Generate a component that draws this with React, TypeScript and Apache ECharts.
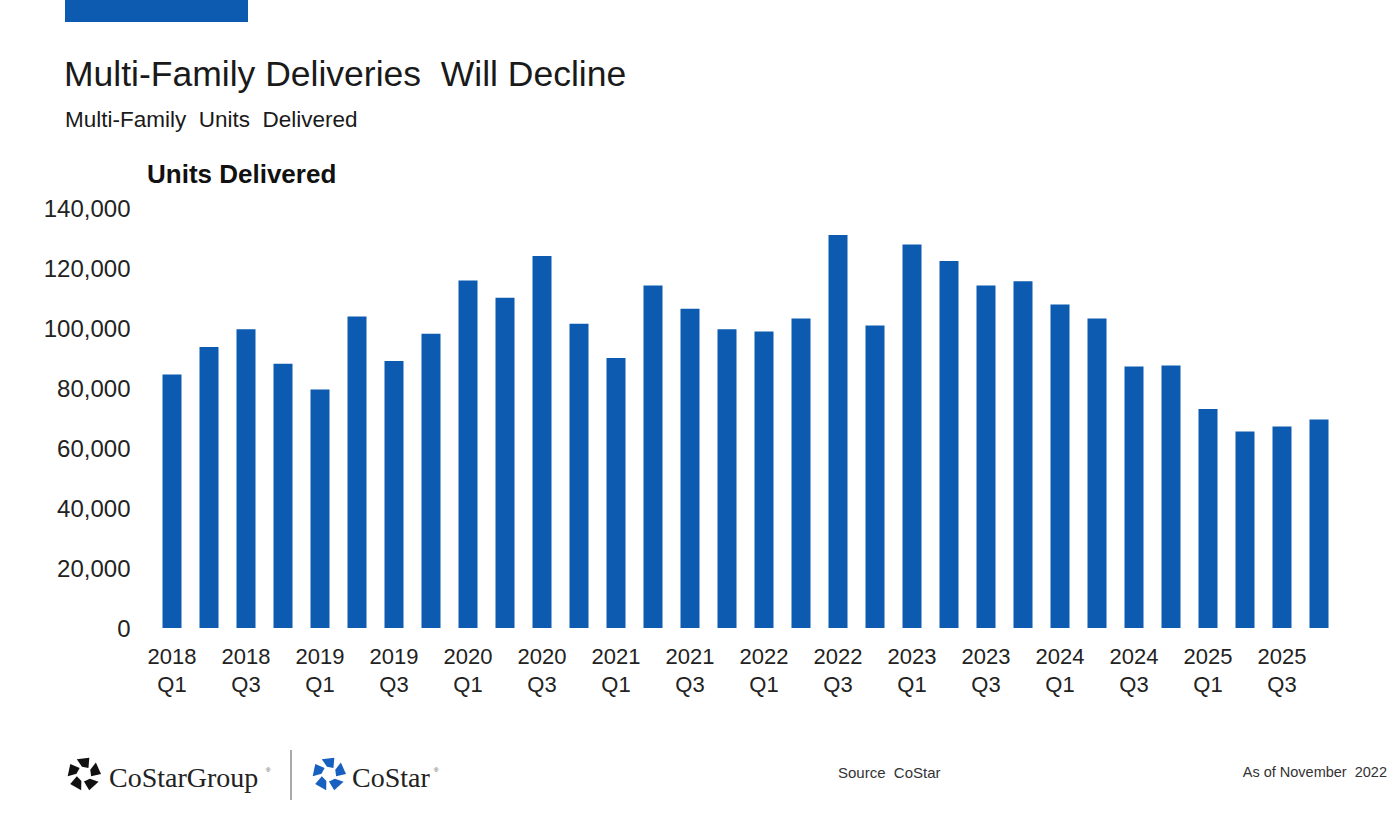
import React, { useEffect, useRef } from "react";
import * as echarts from "echarts";

const categories: string[] = [
  "2018\nQ1", "2018\nQ2", "2018\nQ3", "2018\nQ4",
  "2019\nQ1", "2019\nQ2", "2019\nQ3", "2019\nQ4",
  "2020\nQ1", "2020\nQ2", "2020\nQ3", "2020\nQ4",
  "2021\nQ1", "2021\nQ2", "2021\nQ3", "2021\nQ4",
  "2022\nQ1", "2022\nQ2", "2022\nQ3", "2022\nQ4",
  "2023\nQ1", "2023\nQ2", "2023\nQ3", "2023\nQ4",
  "2024\nQ1", "2024\nQ2", "2024\nQ3", "2024\nQ4",
  "2025\nQ1", "2025\nQ2", "2025\nQ3", "2025\nQ4",
];

const unitsDelivered: number[] = [
  84500, 93700, 99600, 88100,
  79500, 103800, 89000, 98100,
  115800, 110100, 124000, 101400,
  90000, 114200, 106400, 99600,
  98800, 103200, 131000, 100800,
  127800, 122300, 114200, 115600,
  107800, 103200, 87200, 87500,
  73000, 65500, 67200, 69500,
];

const TITLE = "Multi-Family Deliveries  Will Decline";
const SUBTITLE = "Multi-Family  Units  Delivered";
const AXIS_TITLE = "Units Delivered";
const SOURCE = "Source  CoStar";
const AS_OF = "As of November  2022";

function logoPieces(cx: number, cy: number, color: string) {
  const pieces: any[] = [];
  for (let i = 0; i < 5; i++) {
    const a = (-90 + i * 72) * Math.PI / 180;
    const h = 26 * Math.PI / 180;
    const ro = 16.5, ri = 7.5;
    const pts = [
      [cx + ro * Math.cos(a - h), cy + ro * Math.sin(a - h)],
      [cx + (ro + 0.5) * Math.cos(a + h * 0.7), cy + (ro + 0.5) * Math.sin(a + h * 0.7)],
      [cx + ri * Math.cos(a + h * 1.4), cy + ri * Math.sin(a + h * 1.4)],
      [cx + ri * Math.cos(a - h * 0.6), cy + ri * Math.sin(a - h * 0.6)],
    ];
    pieces.push({ type: "polygon", shape: { points: pts }, style: { fill: color } });
  }
  return pieces;
}

export default function App() {
  const ref = useRef<HTMLDivElement>(null);
  useEffect(() => {
    document.body.style.margin = "0";
    const chart = echarts.init(ref.current!, null, { renderer: "svg" });
    const font = "'Liberation Sans', Arial, sans-serif";
    const serif = "'Liberation Serif', 'DejaVu Serif', serif";
    chart.setOption({
      animation: false,
      backgroundColor: "#ffffff",
      grid: { left: 153.5, right: 61.5, top: 208, bottom: 186, containLabel: false },
      xAxis: {
        type: "category",
        data: categories,
        axisLine: { show: false },
        axisTick: { show: false },
        axisLabel: {
          interval: 1,
          fontSize: 22,
          lineHeight: 28,
          margin: 14,
          color: "#222222",
          fontFamily: font,
        },
      },
      yAxis: {
        type: "value",
        min: 0,
        max: 140000,
        interval: 20000,
        splitLine: { show: false },
        axisLine: { show: false },
        axisTick: { show: false },
        axisLabel: {
          fontSize: 24,
          margin: 23,
          color: "#222222",
          fontFamily: font,
          formatter: (v: number) => v.toLocaleString("en-US"),
        },
      },
      series: [
        {
          type: "bar",
          data: unitsDelivered,
          barWidth: 19,
          itemStyle: { color: "#0d5bb0" },
        },
      ],
      graphic: [
        { type: "rect", shape: { x: 65, y: 0, width: 183, height: 22 }, style: { fill: "#0d5bb0" } },
        {
          type: "text", x: 64, y: 74,
          style: { text: TITLE, font: `35.5px ${font}`, fill: "#1a1a1a", verticalAlign: "middle" },
        },
        {
          type: "text", x: 65, y: 119,
          style: { text: SUBTITLE, font: `22.5px ${font}`, fill: "#1a1a1a", verticalAlign: "middle" },
        },
        {
          type: "text", x: 147, y: 174,
          style: { text: AXIS_TITLE, font: `bold 26px ${font}`, fill: "#111111", verticalAlign: "middle" },
        },
        ...logoPieces(84, 774, "#111111"),
        {
          type: "text", x: 109, y: 777,
          style: { text: "CoStarGroup", font: `28px ${serif}`, fill: "#222222", verticalAlign: "middle" },
        },
        {
          type: "text", x: 266, y: 770,
          style: { text: "®", font: `6px ${font}`, fill: "#444444", verticalAlign: "middle" },
        },
        { type: "line", shape: { x1: 291, y1: 750, x2: 291, y2: 800 }, style: { stroke: "#555555", lineWidth: 1 } },
        ...logoPieces(329, 774, "#1760bf"),
        {
          type: "text", x: 352, y: 777,
          style: { text: "CoStar", font: `28px ${serif}`, fill: "#222222", verticalAlign: "middle" },
        },
        {
          type: "text", x: 434, y: 770,
          style: { text: "®", font: `6px ${font}`, fill: "#444444", verticalAlign: "middle" },
        },
        {
          type: "text", x: 838, y: 772,
          style: { text: SOURCE, font: `15px ${font}`, fill: "#333333", verticalAlign: "middle" },
        },
        {
          type: "text", x: 1387, y: 772,
          style: { text: AS_OF, font: `14.5px ${font}`, fill: "#333333", verticalAlign: "middle", align: "right" },
        },
      ],
    });
    return () => chart.dispose();
  }, []);
  return <div ref={ref} style={{ width: 1399, height: 814 }} />;
}
